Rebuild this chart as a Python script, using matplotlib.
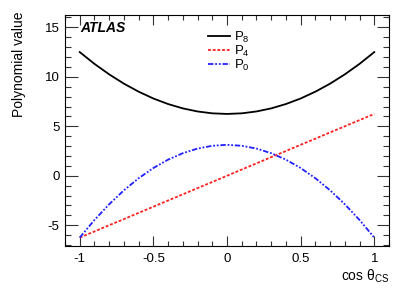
import matplotlib
matplotlib.use("Agg")
import matplotlib.pyplot as plt
from matplotlib.ticker import MultipleLocator

plt.rcParams['font.family'] = ['Liberation Sans', 'DejaVu Sans']
plt.rcParams['mathtext.fontset'] = 'custom'
plt.rcParams['mathtext.rm'] = 'Liberation Sans'
plt.rcParams['mathtext.it'] = 'Liberation Sans:italic'

cos_theta = [-1.0, -0.9, -0.8, -0.7, -0.6, -0.5, -0.4, -0.3, -0.2, -0.1, 0.0,
             0.1, 0.2, 0.3, 0.4, 0.5, 0.6, 0.7, 0.8, 0.9, 1.0]
p8 = [12.5, 11.31, 10.25, 9.31, 8.5, 7.81, 7.25, 6.81, 6.5, 6.31, 6.25,
      6.31, 6.5, 6.81, 7.25, 7.81, 8.5, 9.31, 10.25, 11.31, 12.5]
p4 = [-6.25, -5.63, -5.0, -4.38, -3.75, -3.13, -2.5, -1.88, -1.25, -0.63, 0.0,
      0.63, 1.25, 1.88, 2.5, 3.13, 3.75, 4.38, 5.0, 5.63, 6.25]
p0 = [-6.25, -4.47, -2.88, -1.47, -0.25, 0.78, 1.63, 2.28, 2.75, 3.03, 3.13,
      3.03, 2.75, 2.28, 1.63, 0.78, -0.25, -1.47, -2.88, -4.47, -6.25]
labels = ['P$_8$', 'P$_4$', 'P$_0$']
xtick_vals = [-1, -0.5, 0, 0.5, 1]
xtick_labels = ['-1', '-0.5', '0', '0.5', '1']
ytick_vals = [-5, 0, 5, 10, 15]
ytick_labels = ['-5', '0', '5', '10', '15']

W, H = 409, 294
fig = plt.figure(figsize=(W/100, H/100), dpi=100)
ax = fig.add_axes([65/W, 1-246/H, (389-65)/W, (246-15)/H])

ax.plot(cos_theta, p8, color='black', lw=1.3, ls='-', label=labels[0])
ax.plot(cos_theta, p4, color='#ff2020', lw=1.3, ls=(0, (1.6, 1.0)), label=labels[1])
ax.plot(cos_theta, p0, color='#2020ff', lw=1.3, ls=(0, (3, 1, 1, 1, 1, 1)), label=labels[2])

ax.set_xlim(-1.1, 1.1)
ax.set_ylim(-7.1, 16.25)
ax.xaxis.set_minor_locator(MultipleLocator(0.1))
ax.yaxis.set_minor_locator(MultipleLocator(1))
ax.set_xticks(xtick_vals)
ax.set_xticklabels(xtick_labels)
ax.set_yticks(ytick_vals)
ax.set_yticklabels(ytick_labels)
ax.tick_params(which='both', direction='in', top=True, right=True, labelsize=9.5, width=0.8, color='#333333')
ax.tick_params(axis='x', which='major', length=7, pad=5)
ax.tick_params(axis='x', which='minor', length=3.5)
ax.tick_params(axis='y', which='major', length=9, pad=4)
ax.tick_params(axis='y', which='minor', length=4.5)
for s in ax.spines.values():
    s.set_linewidth(0.8)

ax.set_ylabel('Polynomial value', fontsize=10)
ax.yaxis.set_label_coords((26-65)/324, (246-64)/231)
fig.text(389/W, 1-281/H, 'cos θ$_{\\rm CS}$', ha='right', va='baseline', fontsize=10)

fig.text(80/W, 1-28.5/H, 'ATLAS', ha='left', va='center', fontsize=10, fontweight='bold', fontstyle='italic')

leg = ax.legend(loc='upper left', bbox_to_anchor=((208-65)/324, (246-30)/231), frameon=False,
                fontsize=9.5, handlelength=1.7, handletextpad=0.3, labelspacing=-0.1, borderaxespad=0,
                borderpad=0)

fig.savefig('out.png', dpi=100)
